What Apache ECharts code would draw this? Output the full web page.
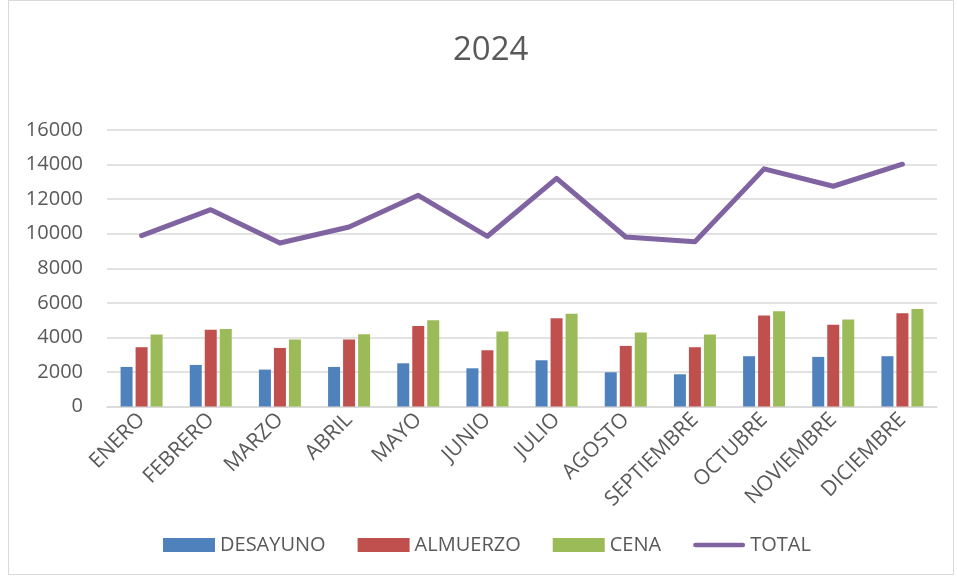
<!DOCTYPE html>
<html>
<head>
<meta charset="utf-8">
<script src="https://cdn.jsdelivr.net/npm/echarts@6/dist/echarts.min.js"></script>
<style>
html,body{margin:0;padding:0;background:#fff;}
#chart{width:957px;height:577px;}
</style>
</head>
<body>
<div id="chart"></div>
<script>
const months = ['ENERO','FEBRERO','MARZO','ABRIL','MAYO','JUNIO','JULIO','AGOSTO','SEPTIEMBRE','OCTUBRE','NOVIEMBRE','DICIEMBRE'];
const desayuno = [2290, 2405, 2135, 2290, 2500, 2210, 2675, 1980, 1865, 2910, 2870, 2910];
const almuerzo = [3430, 4435, 3390, 3875, 4665, 3255, 5110, 3505, 3430, 5265, 4725, 5400];
const cena     = [4165, 4490, 3875, 4185, 4995, 4335, 5360, 4280, 4165, 5515, 5030, 5635];
const total    = [9885, 11390, 9460, 10390, 12220, 9850, 13205, 9810, 9535, 13750, 12745, 14020];
const yTicks = {min: 0, max: 16000, interval: 2000};

const FONT = '"Open Sans", "Noto Sans", sans-serif';
const TXT = '#595959';
const GRID = '#d9d9d9';

const chart = echarts.init(document.getElementById('chart'));
chart.setOption({
  animation: false,
  backgroundColor: '#fff',
  textStyle: {fontFamily: FONT, color: TXT},
  graphic: [{
    type: 'rect',
    shape: {x: 8.5, y: 0.5, width: 945, height: 574},
    style: {fill: 'none', stroke: GRID, lineWidth: 1},
    silent: true
  }],
  title: {
    text: '2024',
    left: 448,
    top: 29,
    textStyle: {fontFamily: FONT, fontSize: 33, fontWeight: 'normal', color: TXT}
  },
  legend: {
    left: 163,
    top: 535,
    padding: 0,
    itemWidth: 52,
    itemHeight: 14,
    itemGap: 32,
    textStyle: {fontFamily: FONT, fontSize: 20, color: TXT},
    data: [
      {name: 'DESAYUNO', icon: 'rect'},
      {name: 'ALMUERZO', icon: 'rect'},
      {name: 'CENA', icon: 'rect'},
      {name: 'TOTAL', icon: 'path://M2.5,0 L54.5,0 A2.5,2.5 0 0 1 54.5,5 L2.5,5 A2.5,2.5 0 0 1 2.5,0 Z'}
    ]
  },
  grid: {left: 107, right: 20, top: 130, bottom: 170.5, containLabel: false},
  xAxis: {
    type: 'category',
    data: months,
    boundaryGap: true,
    axisTick: {show: false},
    axisLine: {lineStyle: {color: GRID, width: 1.5}},
    axisLabel: {rotate: 45, fontFamily: FONT, fontSize: 21, color: TXT, margin: 10, interval: 0}
  },
  yAxis: {
    type: 'value',
    min: yTicks.min,
    max: yTicks.max,
    interval: yTicks.interval,
    axisLine: {show: false},
    axisTick: {show: false},
    splitLine: {lineStyle: {color: GRID, width: 1.5}},
    axisLabel: {fontFamily: FONT, fontSize: 20, color: TXT, margin: 24, formatter: v => String(v)}
  },
  series: [
    {name: 'DESAYUNO', type: 'bar', data: desayuno, barWidth: 12, barGap: '25%', itemStyle: {color: '#4F81BD'}},
    {name: 'ALMUERZO', type: 'bar', data: almuerzo, barWidth: 12, barGap: '25%', itemStyle: {color: '#C0504D'}},
    {name: 'CENA', type: 'bar', data: cena, barWidth: 12, barGap: '25%', itemStyle: {color: '#9BBB59'}},
    {name: 'TOTAL', type: 'line', data: total, symbol: 'none', showSymbol: false,
     lineStyle: {color: '#8064A2', width: 5, cap: 'round', join: 'round'}, itemStyle: {color: '#8064A2'}}
  ]
});
</script>
</body>
</html>
